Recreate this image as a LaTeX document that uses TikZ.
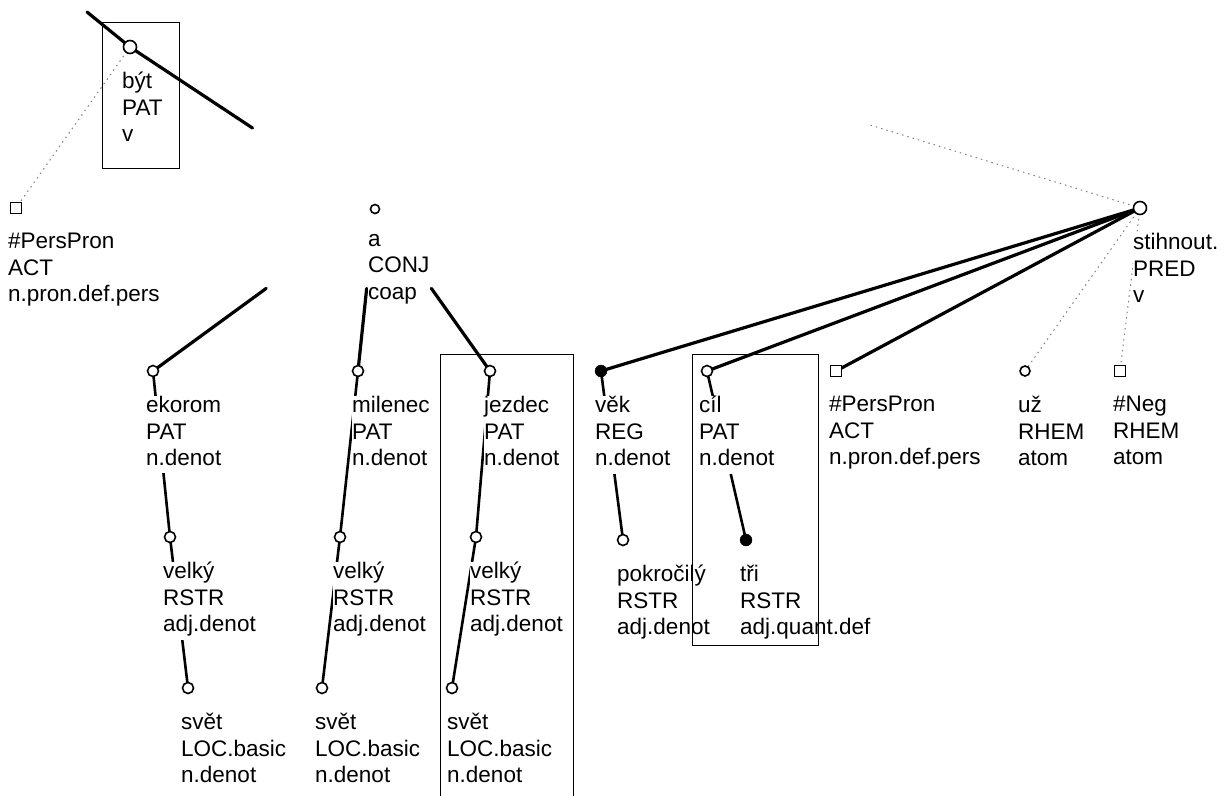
\documentclass[tikz,border=0pt]{standalone}
\usepackage{fontspec}
\setmainfont{Liberation Sans}
\usetikzlibrary{calc}

\begin{document}
\begin{tikzpicture}[
    x=1pt, y=-1pt,
    text=black,
    hollow/.style={circle, draw=black, fill=white, line width=1.6pt, minimum size=11pt, inner sep=0pt},
    fulldot/.style={circle, draw=black, fill=black, minimum size=12pt, inner sep=0pt},
    sqnode/.style={rectangle, draw=black, fill=white, line width=1.6pt, minimum size=11pt, inner sep=0pt},
    lbl/.style={anchor=north west, align=left, fill=white, inner sep=0pt, font=\fontsize{22.5}{26.5}\selectfont, execute at begin node=\strut},
    thickedge/.style={line width=3.2pt, line cap=round},
    subedge/.style={line width=2.6pt, line cap=round},
    faint/.style={gray, line width=1pt, dash pattern=on 1.5pt off 4pt},
    boxline/.style={draw=black, line width=1pt},
]
\useasboundingbox (0,0) rectangle (1230,795);

% ==================== POSITIONS ====================
\coordinate (byt) at (130,47);
\coordinate (byt_par) at (87,12);
\coordinate (pp_a) at (16,208);
\coordinate (a) at (375,209);
\coordinate (stihnout) at (1140,208);
\coordinate (stih_par) at (870,125);

\coordinate (ekorom) at (153,371);
\coordinate (milenec) at (358,371);
\coordinate (jezdec) at (490,371);
\coordinate (vek) at (601,371);
\coordinate (cil) at (707,371);
\coordinate (pp_b) at (836,371);
\coordinate (uz) at (1025,371);
\coordinate (neg) at (1120,371);

\coordinate (velky_a) at (170,537);
\coordinate (velky_b) at (340,537);
\coordinate (velky_c) at (476,537);
\coordinate (pokrocily) at (623,540);
\coordinate (tri) at (746,540);

\coordinate (svet_a) at (188,688);
\coordinate (svet_b) at (322,688);
\coordinate (svet_c) at (452,688);

% ==================== EDGES ====================
% být and its parent
\draw[thickedge] (byt_par) -- (byt);
\draw[thickedge] (byt) -- ($(byt)!0.5!(a)$);
\draw[faint] (byt) -- (pp_a);

% coordination
\draw[thickedge] ($(a)!0.49!(ekorom)$) -- (ekorom);
\draw[thickedge] ($(a)!0.49!(milenec)$) -- (milenec);
\draw[thickedge] ($(a)!0.49!(jezdec)$) -- (jezdec);

\draw[subedge] (ekorom) -- (velky_a);
\draw[subedge] (milenec) -- (velky_b);
\draw[subedge] (jezdec) -- (velky_c);
\draw[subedge] (velky_a) -- (svet_a);
\draw[subedge] (velky_b) -- (svet_b);
\draw[subedge] (velky_c) -- (svet_c);

% stihnout
\draw[faint] (stihnout) -- (stih_par);
\draw[thickedge] (stihnout) -- (vek);
\draw[thickedge] (stihnout) -- (cil);
\draw[thickedge] (stihnout) -- (pp_b);
\draw[faint] (stihnout) -- (uz);
\draw[faint] (stihnout) -- (neg);
\draw[subedge] (vek) -- (pokrocily);
\draw[subedge] (cil) -- (tri);

% ==================== MARKERS ====================
\node[hollow, minimum size=13pt] (byt) at (byt) {};
\node[sqnode] (pp_a) at (pp_a) {};
\node[hollow, minimum size=9pt] (a) at (a) {};
\node[hollow, minimum size=13pt] (stihnout) at (stihnout) {};

\node[hollow] (ekorom) at (ekorom) {};
\node[hollow] (milenec) at (milenec) {};
\node[hollow] (jezdec) at (jezdec) {};
\node[fulldot] (vek) at (vek) {};
\node[hollow] (cil) at (cil) {};
\node[sqnode] (pp_b) at (pp_b) {};
\node[hollow, minimum size=10pt] (uz) at (uz) {};
\node[sqnode] (neg) at (neg) {};

\node[hollow] (velky_a) at (velky_a) {};
\node[hollow] (velky_b) at (velky_b) {};
\node[hollow] (velky_c) at (velky_c) {};
\node[hollow] (pokrocily) at (pokrocily) {};
\node[fulldot] (tri) at (tri) {};

\node[hollow] (svet_a) at (svet_a) {};
\node[hollow] (svet_b) at (svet_b) {};
\node[hollow] (svet_c) at (svet_c) {};

% ==================== LABELS ====================
\node[lbl] (byt_l) at ($(byt)+(-8,25)$) {být\\PAT\\v};
\node[lbl] (pp_a_l) at ($(pp_a)+(-8,25)$) {\#PersPron\\ACT\\n.pron.def.pers};
\node[lbl] (a_l) at ($(a)+(-7,25)$) {a\\CONJ\\coap};
\node[lbl] (stihnout_l) at ($(stihnout)+(-7,25)$) {stihnout.\\PRED\\v};

\node[lbl] (ekorom_l) at ($(ekorom)+(-7,25)$) {ekorom\\PAT\\n.denot};
\node[lbl] (milenec_l) at ($(milenec)+(-6,25)$) {milenec\\PAT\\n.denot};
\node[lbl] (jezdec_l) at ($(jezdec)+(-6,25)$) {jezdec\\PAT\\n.denot};
\node[lbl] (vek_l) at ($(vek)+(-6,25)$) {věk\\REG\\n.denot};
\node[lbl] (cil_l) at ($(cil)+(-8,25)$) {cíl\\PAT\\n.denot};
\node[lbl] (pp_b_l) at ($(pp_b)+(-7,25)$) {\#PersPron\\ACT\\n.pron.def.pers};
\node[lbl] (uz_l) at ($(uz)+(-7,25)$) {už\\RHEM\\atom};
\node[lbl] (neg_l) at ($(neg)+(-7,25)$) {\#Neg\\RHEM\\atom};

\node[lbl] (velky_a_l) at ($(velky_a)+(-7,25)$) {velký\\RSTR\\adj.denot};
\node[lbl] (velky_b_l) at ($(velky_b)+(-7,25)$) {velký\\RSTR\\adj.denot};
\node[lbl] (velky_c_l) at ($(velky_c)+(-6,25)$) {velký\\RSTR\\adj.denot};
\node[lbl] (pokrocily_l) at ($(pokrocily)+(-6,25)$) {pokročilý\\RSTR\\adj.denot};
\node[lbl] (tri_l) at ($(tri)+(-6,25)$) {tři\\RSTR\\adj.quant.def};

\node[lbl] (svet_a_l) at ($(svet_a)+(-7,25)$) {svět\\LOC.basic\\n.denot};
\node[lbl] (svet_b_l) at ($(svet_b)+(-7,25)$) {svět\\LOC.basic\\n.denot};
\node[lbl] (svet_c_l) at ($(svet_c)+(-5,25)$) {svět\\LOC.basic\\n.denot};

% ==================== BOXES ====================
\draw[boxline] (102,22) rectangle (179,168);
\draw[boxline] (440,796) |- (573,354) -- (573,796);
\draw[boxline] (692,354) rectangle (818,645);

\end{tikzpicture}
\end{document}
